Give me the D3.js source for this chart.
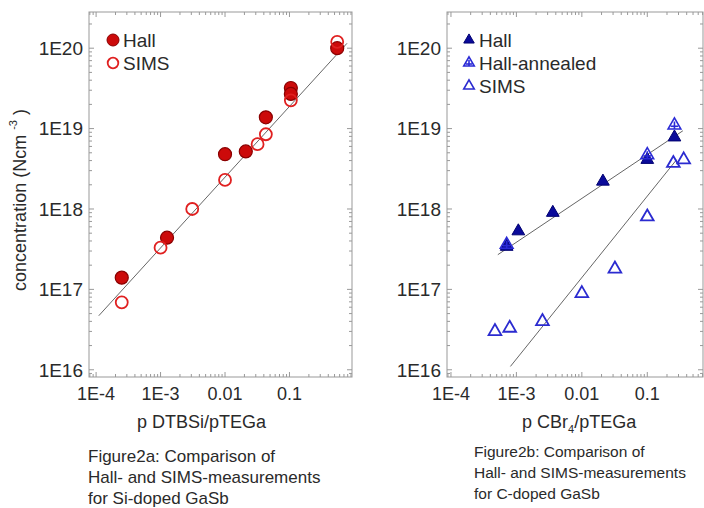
<!DOCTYPE html>
<html>
<head>
<meta charset="utf-8">
<script src="https://cdn.jsdelivr.net/npm/d3@7"></script>
<style>
  body { margin: 0; background: #fff; }
  svg text { font-family: "Liberation Sans", Arial, sans-serif; fill: #2a2a2a; }
</style>
</head>
<body>
<svg id="chart" width="704" height="508"></svg>
<script>
// ticks shared by both panels
const xTicks = [1e-4, 1e-3, 1e-2, 1e-1]
const xTickLabels = ['1E-4', '1E-3', '0.01', '0.1']
const yTicks = [1e16, 1e17, 1e18, 1e19, 1e20]
const yTickLabels = ['1E16', '1E17', '1E18', '1E19', '1E20']

// figure 2a, Si-doped
const siHallX = [2.5e-4, 1.26e-3, 0.01, 0.021, 0.043, 0.105, 0.105, 0.55]
const siHallY = [1.4e17, 4.4e17, 4.8e18, 5.2e18, 1.38e19, 3.2e19, 2.7e19, 1.0e20]
const siSimsX = [2.5e-4, 1e-3, 3.1e-3, 0.01, 0.032, 0.043, 0.105, 0.55]
const siSimsY = [6.9e16, 3.3e17, 1e18, 2.3e18, 6.4e18, 8.5e18, 2.25e19, 1.2e20]
const siFitX = [1.1e-4, 0.78]
const siFitY = [4.7e16, 1.15e20]

// figure 2b, C-doped
const cHallX = [7.1e-4, 1.07e-3, 3.6e-3, 0.021, 0.1, 0.26]
const cHallY = [3.4e17, 5.3e17, 9e17, 2.2e18, 4.1e18, 7.8e18]
const cAnnX = [7.1e-4, 0.1, 0.26]
const cAnnY = [3.6e17, 4.7e18, 1.1e19]
const cSimsX = [4.7e-4, 7.9e-4, 2.5e-3, 0.01, 0.032, 0.1, 0.25, 0.36]
const cSimsY = [3.0e16, 3.3e16, 4e16, 8.9e16, 1.8e17, 8e17, 3.7e18, 4.1e18]
const cHallFitX = [5.2e-4, 0.35]
const cHallFitY = [2.7e17, 9.4e18]
const cSimsFitX = [8.1e-4, 0.28]
const cSimsFitY = [1.1e16, 4.1e18]

const zip = (xs, ys) => xs.map((x, i) => [x, ys[i]])

let svg = d3.select('#chart')

let yScale = d3.scaleLog().domain([8.13e15, 2.82e20]).range([377, 12])

function minorTicks(scale) {
    let [a, b] = scale.domain()
    let out = []
    for (let e = Math.floor(Math.log10(a)); e <= Math.ceil(Math.log10(b)); e++) {
        for (let m = 1; m < 10; m++) {
            let v = m * Math.pow(10, e)
            if (v >= a && v <= b) out.push({v: v, major: m == 1})
        }
    }
    return out
}

function drawPanel(g, x, y) {
    let [x0, x1] = x.range()
    let [y0, y1] = y.range()
    let axisCol = '#999'

    g.append('rect')
        .attr('x', x0).attr('y', y1)
        .attr('width', x1 - x0).attr('height', y0 - y1)
        .attr('fill', 'none').attr('stroke', axisCol).attr('stroke-width', 1)

    let xt = minorTicks(x)
    let yt = minorTicks(y)
    let tickG = g.append('g').attr('stroke', axisCol).attr('stroke-width', 1)
    xt.forEach(t => {
        let len = t.major ? 5 : 3
        let px = x(t.v)
        tickG.append('line').attr('x1', px).attr('x2', px).attr('y1', y0).attr('y2', y0 - len)
        tickG.append('line').attr('x1', px).attr('x2', px).attr('y1', y1).attr('y2', y1 + len)
    })
    yt.forEach(t => {
        let len = t.major ? 5 : 3
        let py = y(t.v)
        tickG.append('line').attr('x1', x0).attr('x2', x0 + len).attr('y1', py).attr('y2', py)
        tickG.append('line').attr('x1', x1).attr('x2', x1 - len).attr('y1', py).attr('y2', py)
    })

    g.selectAll('.xlab').data(xTicks).enter().append('text')
        .attr('class', 'xlab')
        .attr('x', d => x(d)).attr('y', 400)
        .attr('text-anchor', 'middle').attr('font-size', 18)
        .text((d, i) => xTickLabels[i])

    g.selectAll('.ylab').data(yTicks).enter().append('text')
        .attr('class', 'ylab')
        .attr('x', x0 - 6).attr('y', d => y(d)).attr('dy', '0.36em')
        .attr('text-anchor', 'end').attr('font-size', 19)
        .text((d, i) => yTickLabels[i])
}

function fitLine(g, x, y, pts) {
    g.append('path')
        .attr('d', d3.line().x(d => x(d[0])).y(d => y(d[1]))(pts))
        .attr('fill', 'none').attr('stroke', '#666').attr('stroke-width', 1)
}

// ---- Figure 2a ----
let xA = d3.scaleLog().domain([7.76e-5, 0.933]).range([89, 352])
let gA = svg.append('g')
drawPanel(gA, xA, yScale)
fitLine(gA, xA, yScale, zip(siFitX, siFitY))

gA.selectAll('.siHall').data(zip(siHallX, siHallY)).enter().append('circle')
    .attr('cx', d => xA(d[0])).attr('cy', d => yScale(d[1])).attr('r', 6.5)
    .attr('fill', '#cc0a0a').attr('stroke', '#8a0000').attr('stroke-width', 1.2)
gA.selectAll('.siSims').data(zip(siSimsX, siSimsY)).enter().append('circle')
    .attr('cx', d => xA(d[0])).attr('cy', d => yScale(d[1])).attr('r', 6)
    .attr('fill', 'none').attr('stroke', '#e02020').attr('stroke-width', 1.8)

let legA = gA.append('g')
legA.append('circle').attr('cx', 113).attr('cy', 40).attr('r', 6)
    .attr('fill', '#cc0a0a').attr('stroke', '#8a0000')
legA.append('text').attr('x', 123).attr('y', 46.5).attr('font-size', 19).text('Hall')
legA.append('circle').attr('cx', 113).attr('cy', 63).attr('r', 5.3)
    .attr('fill', 'none').attr('stroke', '#e02020').attr('stroke-width', 1.8)
legA.append('text').attr('x', 123).attr('y', 69.5).attr('font-size', 19).text('SIMS')

gA.append('text')
    .attr('transform', 'translate(26, 200) rotate(-90)')
    .attr('text-anchor', 'middle').attr('font-size', 18)
    .call(t => {
        t.append('tspan').text('concentration (Ncm ')
        t.append('tspan').attr('font-size', 11).attr('dy', -9).text('-3')
        t.append('tspan').attr('dy', 9).text(' )')
    })

gA.append('text').attr('x', 137).attr('y', 428).attr('font-size', 18).text('p DTBSi/pTEGa')

let capA = ['Figure2a: Comparison of', 'Hall- and SIMS-measurements', 'for Si-doped GaSb']
gA.selectAll('.capA').data(capA).enter().append('text')
    .attr('x', 88).attr('y', (d, i) => 462 + i * 21)
    .attr('font-size', 17).text(d => d)

// ---- Figure 2b ----
let xB = d3.scaleLog().domain([8.7e-5, 0.71]).range([447, 703])
let gB = svg.append('g')
drawPanel(gB, xB, yScale)
fitLine(gB, xB, yScale, zip(cHallFitX, cHallFitY))
fitLine(gB, xB, yScale, zip(cSimsFitX, cSimsFitY))

let tri = d3.symbol().type(d3.symbolTriangle).size(70)
let triSmall = d3.symbol().type(d3.symbolTriangle).size(48)

function annealed(sel, size) {
    sel.append('path').attr('d', d3.symbol().type(d3.symbolTriangle).size(size)())
        .attr('fill', 'none').attr('stroke', '#2a2ad6').attr('stroke-width', 1.6)
    let s = Math.sqrt(size) * 0.45
    sel.append('line').attr('x1', -s).attr('x2', s).attr('y1', 1).attr('y2', 1)
        .attr('stroke', '#2a2ad6').attr('stroke-width', 1.6)
    sel.append('line').attr('x1', 0).attr('x2', 0).attr('y1', -s).attr('y2', s)
        .attr('stroke', '#2a2ad6').attr('stroke-width', 1.6)
}

gB.selectAll('.cSims').data(zip(cSimsX, cSimsY)).enter().append('path')
    .attr('transform', d => `translate(${xB(d[0])},${yScale(d[1])})`)
    .attr('d', tri)
    .attr('fill', 'none').attr('stroke', '#2b2bd0').attr('stroke-width', 1.8)
gB.selectAll('.cHall').data(zip(cHallX, cHallY)).enter().append('path')
    .attr('transform', d => `translate(${xB(d[0])},${yScale(d[1])})`)
    .attr('d', tri)
    .attr('fill', '#0a0a9a').attr('stroke', '#000070').attr('stroke-width', 1)
gB.selectAll('.cAnn').data(zip(cAnnX, cAnnY)).enter().append('g')
    .attr('transform', d => `translate(${xB(d[0])},${yScale(d[1])})`)
    .each(function() { annealed(d3.select(this), 70) })

let legB = gB.append('g')
legB.append('path').attr('transform', 'translate(469, 40)').attr('d', triSmall)
    .attr('fill', '#0a0a9a').attr('stroke', '#000070')
legB.append('text').attr('x', 479).attr('y', 46.5).attr('font-size', 19).text('Hall')
legB.append('g').attr('transform', 'translate(469, 63)').call(s => annealed(s, 48))
legB.append('text').attr('x', 479).attr('y', 69.5).attr('font-size', 19).text('Hall-annealed')
legB.append('path').attr('transform', 'translate(469, 86)').attr('d', triSmall)
    .attr('fill', 'none').attr('stroke', '#2b2bd0').attr('stroke-width', 1.6)
legB.append('text').attr('x', 479).attr('y', 92.5).attr('font-size', 19).text('SIMS')

gB.append('text').attr('x', 522).attr('y', 428).attr('font-size', 18)
    .call(t => {
        t.append('tspan').text('p CBr')
        t.append('tspan').attr('font-size', 11).attr('dy', 5).text('4')
        t.append('tspan').attr('dy', -5).text('/pTEGa')
    })

let capB = ['Figure2b: Comparison of', 'Hall- and SIMS-measurements', 'for C-doped GaSb']
gB.selectAll('.capB').data(capB).enter().append('text')
    .attr('x', 474).attr('y', (d, i) => 457 + i * 21)
    .attr('font-size', 15.5).text(d => d)
</script>
</body>
</html>
